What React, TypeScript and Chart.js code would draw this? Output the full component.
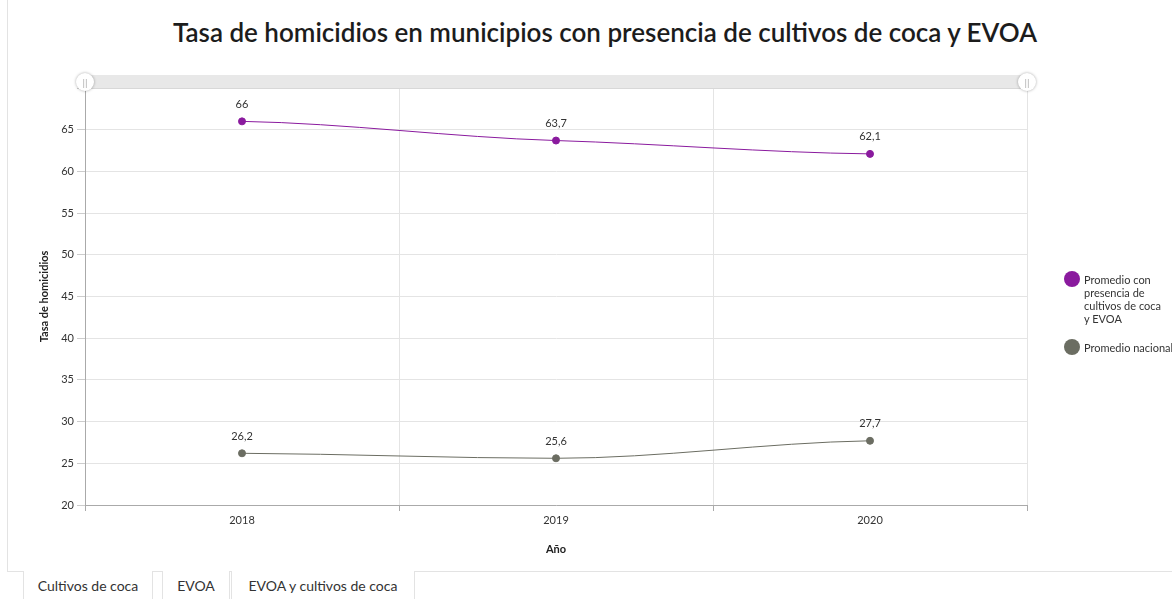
import React, { useEffect, useRef } from "react";
import { Chart, registerables } from "chart.js";

Chart.register(...registerables);

const years = ["2018", "2019", "2020"];
const cocaEvoaValues = [66, 63.7, 62.1];
const nationalValues = [26.2, 25.6, 27.7];
const seriesNames = ["Promedio con presencia de cultivos de coca y EVOA", "Promedio nacional"];
const seriesColors = ["#8a1a9e", "#6b6d62"];
const tabs = ["Cultivos de coca", "EVOA", "EVOA y cultivos de coca"];
const FONT = "Lato, 'Open Sans', sans-serif";

const fmt = (v: number) => String(v).replace(".", ",");

const labelPlugin = {
  id: "pointLabels",
  afterDatasetsDraw(chart: any) {
    const ctx = chart.ctx;
    ctx.save();
    ctx.font = `11px ${FONT}`;
    ctx.fillStyle = "#333";
    ctx.textAlign = "center";
    ctx.textBaseline = "middle";
    chart.data.datasets.forEach((ds: any, i: number) => {
      const meta = chart.getDatasetMeta(i);
      meta.data.forEach((pt: any, j: number) => {
        ctx.fillText(fmt(ds.data[j]), pt.x, pt.y - 17);
      });
    });
    ctx.restore();
  },
};

// softer smoothing: flatter tangents at each point
const smoothPlugin = {
  id: "softSmooth",
  beforeDatasetDraw(chart: any, args: any) {
    const meta = args.meta;
    const line = meta.dataset;
    if (!line) return;
    line.updateControlPoints(chart.chartArea);
    const pts = meta.data;
    const n = pts.length;
    const sec: number[] = [];
    for (let i = 0; i < n - 1; i++) {
      sec.push((pts[i + 1].y - pts[i].y) / (pts[i + 1].x - pts[i].x));
    }
    for (let i = 0; i < n; i++) {
      let m: number;
      if (i === 0) m = 0.3 * sec[0];
      else if (i === n - 1) m = 0.3 * sec[n - 2];
      else {
        const a = sec[i - 1];
        const b = sec[i];
        m = a * b <= 0 ? 0 : 0.6 * ((a + b) / 2);
      }
      const p = pts[i];
      if (i > 0) {
        const dx = (p.x - pts[i - 1].x) / 3;
        p.cp1x = p.x - dx;
        p.cp1y = p.y - m * dx;
      }
      if (i < n - 1) {
        const dx = (pts[i + 1].x - p.x) / 3;
        p.cp2x = p.x + dx;
        p.cp2y = p.y + m * dx;
      }
    }
  },
};

export default function App() {
  const ref = useRef<HTMLCanvasElement>(null);
  useEffect(() => {
    document.body.style.margin = "0";
    const chart = new Chart(ref.current!, {
      type: "line",
      data: {
        labels: years,
        datasets: [
          {
            label: seriesNames[0],
            data: cocaEvoaValues,
            borderColor: seriesColors[0],
            backgroundColor: seriesColors[0],
            borderWidth: 1,
            pointRadius: 3.5,
            tension: 0.4,
          },
          {
            label: seriesNames[1],
            data: nationalValues,
            borderColor: seriesColors[1],
            backgroundColor: seriesColors[1],
            borderWidth: 1,
            pointRadius: 3.5,
            tension: 0.4,
          },
        ],
      },
      options: {
        animation: false,
        responsive: false,
        maintainAspectRatio: false,
        layout: { padding: { top: 18, right: 137, left: 0, bottom: 0 } },
        plugins: {
          legend: { display: false },
          title: { display: false },
          tooltip: { enabled: false },
        },
        scales: {
          x: {
            offset: true,
            grid: { color: "#e4e4e4", tickLength: 6, offset: true, tickColor: "#aaa" },
            border: { color: "#aaa" },
            ticks: { color: "#333", font: { family: FONT, size: 11 }, padding: 3 },
            title: {
              display: true,
              text: "Año",
              color: "#222",
              font: { family: FONT, size: 11, weight: "bold" },
              padding: { top: 0, bottom: 14 },
            },
            afterFit: (s: any) => {
              s.height = 65;
            },
          },
          y: {
            min: 20,
            max: 70,
            ticks: {
              stepSize: 5,
              color: "#333",
              font: { family: FONT, size: 11 },
              padding: 3,
              callback: (v: any) => (v === 70 ? "" : String(v)),
            },
            grid: {
              color: (c: any) => (c.tick && c.tick.value === 70 ? "rgba(0,0,0,0)" : "#e4e4e4"),
              tickLength: 8,
              tickColor: "#ccc",
            },
            border: { color: "#aaa" },
            title: {
              display: true,
              text: "Tasa de homicidios",
              color: "#222",
              font: { family: FONT, size: 11, weight: "bold" },
              padding: { top: 30, bottom: 0 },
            },
            afterFit: (s: any) => {
              s.width = 77;
            },
          },
        },
      } as any,
      plugins: [smoothPlugin, labelPlugin],
    });
    return () => chart.destroy();
  }, []);

  const handle = (left: number) => (
    <div
      style={{
        position: "absolute",
        left: left - 9,
        top: 73,
        width: 18,
        height: 18,
        borderRadius: "50%",
        background: "#fff",
        boxShadow: "0 0 3px rgba(0,0,0,0.35)",
        display: "flex",
        alignItems: "center",
        justifyContent: "center",
        fontSize: 10,
        color: "#aaa",
        fontFamily: FONT,
        lineHeight: 1,
      }}
    >
      ||
    </div>
  );

  return (
    <div style={{ position: "relative", width: 1172, height: 599, overflow: "hidden", background: "#fff", fontFamily: FONT }}>
      <div
        style={{
          position: "absolute",
          left: 7,
          top: -1,
          width: 1170,
          height: 571,
          border: "1px solid #e3e3e3",
        }}
      />
      <div
        style={{
          position: "absolute",
          left: 0,
          width: 1210,
          top: 15,
          textAlign: "center",
          fontSize: 26,
          fontWeight: 600,
          color: "#1c1c1c",
          lineHeight: "34px",
        }}
      >
        Tasa de homicidios en municipios con presencia de cultivos de coca y EVOA
      </div>
      <canvas ref={ref} width={1156} height={500} style={{ position: "absolute", left: 8, top: 70, width: 1156, height: 500 }} />
      <div
        style={{
          position: "absolute",
          left: 85,
          top: 75,
          width: 942,
          height: 13,
          background: "#e8e8e8",
          borderBottom: "1px solid #d8d8d8",
        }}
      />
      {handle(85)}
      {handle(1027)}
      <div style={{ position: "absolute", left: 1064, top: 271, width: 108, fontSize: 11, color: "#333", lineHeight: "13px" }}>
        <div style={{ display: "flex", alignItems: "flex-start" }}>
          <span style={{ width: 16, height: 16, borderRadius: "50%", background: seriesColors[0], flex: "none", marginRight: 4 }} />
          <span style={{ paddingTop: 2, width: 80 }}>{seriesNames[0]}</span>
        </div>
        <div style={{ display: "flex", alignItems: "flex-start", marginTop: 14 }}>
          <span style={{ width: 16, height: 16, borderRadius: "50%", background: seriesColors[1], flex: "none", marginRight: 4 }} />
          <span style={{ paddingTop: 2, whiteSpace: "nowrap" }}>{seriesNames[1]}</span>
        </div>
      </div>
      {tabs.map((t, i) => {
        const lefts = [23, 162, 231];
        const widths = [130, 68, 184];
        return (
          <div
            key={t}
            style={{
              position: "absolute",
              left: lefts[i],
              top: 571,
              width: widths[i],
              height: 30,
              borderLeft: "1px solid #e3e3e3",
              borderRight: "1px solid #e3e3e3",
              background: "#fff",
              boxSizing: "border-box",
              textAlign: "center",
              fontSize: 14,
              color: "#333",
              lineHeight: "29px",
            }}
          >
            {t}
          </div>
        );
      })}
    </div>
  );
}
